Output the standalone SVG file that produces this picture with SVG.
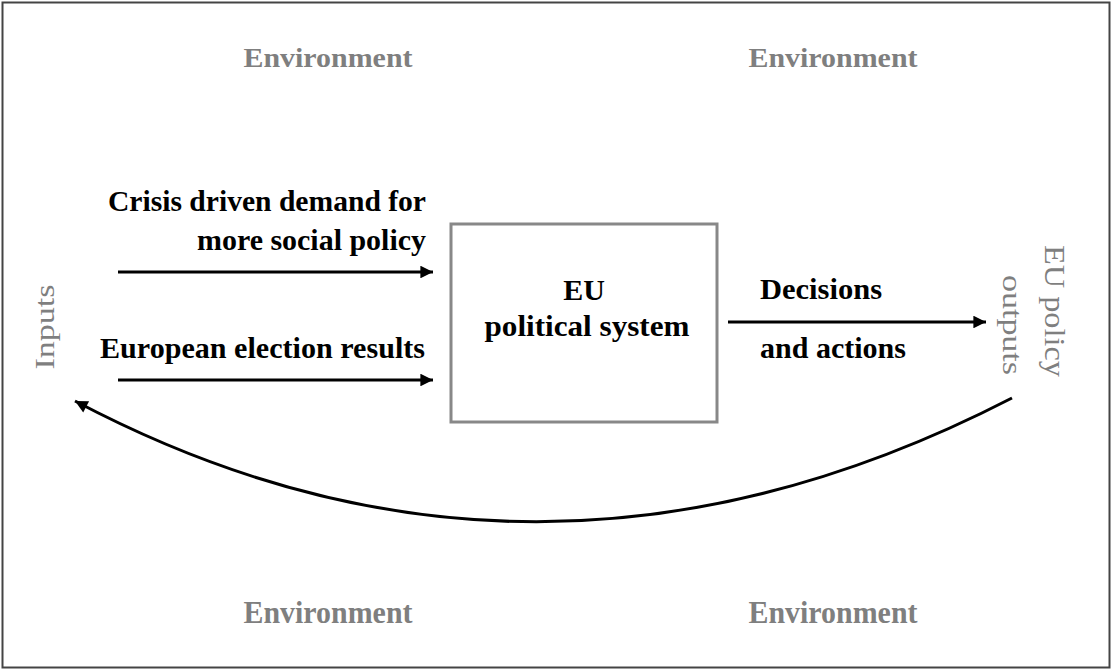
<svg xmlns="http://www.w3.org/2000/svg" width="1113" height="671" viewBox="0 0 1113 671">
<defs>
<style>
.env{font-family:"Liberation Serif",serif;font-weight:bold;font-size:28px;fill:#7f7f7f;text-anchor:middle}
.envb{font-family:"Liberation Serif",serif;font-weight:bold;font-size:31px;fill:#7f7f7f;text-anchor:middle}
.lbl{font-family:"Liberation Serif",serif;font-weight:bold;font-size:30px;fill:#000}
.side{font-family:"Liberation Serif",serif;font-size:27px;fill:#7f7f7f;text-anchor:middle}
.arr{stroke:#000;stroke-width:3;fill:none}
</style>
<marker id="ah" viewBox="0 0 10 10" refX="10" refY="5" markerWidth="5" markerHeight="4.2" orient="auto" markerUnits="strokeWidth">
<path d="M0,0 L10,5 L0,10 z" fill="#000"/>
</marker>
</defs>
<rect x="0" y="0" width="1113" height="671" fill="#fff"/>
<rect x="2.5" y="2.5" width="1107" height="665" fill="none" stroke="#444" stroke-width="2"/>
<g id="environment">
<text class="env" x="328" y="67" textLength="169" lengthAdjust="spacingAndGlyphs">Environment</text>
<text class="env" x="833" y="67" textLength="169" lengthAdjust="spacingAndGlyphs">Environment</text>
<text class="envb" x="328" y="623" textLength="169" lengthAdjust="spacingAndGlyphs">Environment</text>
<text class="envb" x="833" y="623" textLength="169" lengthAdjust="spacingAndGlyphs">Environment</text>
</g>
<g id="inputs">
<text class="side" transform="translate(54,327) rotate(-90)" textLength="85" lengthAdjust="spacingAndGlyphs">Inputs</text>
</g>
<g id="outputs">
<text class="side" style="font-size:29px" transform="translate(1045,311) rotate(90)" textLength="132" lengthAdjust="spacingAndGlyphs">EU policy</text>
<text class="side" transform="translate(1003,325) rotate(90)" textLength="100" lengthAdjust="spacingAndGlyphs">outputs</text>
</g>
<g id="system">
<rect x="451" y="224" width="266" height="198" fill="#fff" stroke="#888" stroke-width="3"/>
<text class="lbl" x="584" y="300" text-anchor="middle">EU</text>
<text class="lbl" x="587" y="336" text-anchor="middle" textLength="205" lengthAdjust="spacingAndGlyphs">political  system</text>
</g>
<g id="labels">
<text class="lbl" x="426" y="211" text-anchor="end" textLength="318" lengthAdjust="spacingAndGlyphs">Crisis driven demand for</text>
<text class="lbl" x="426" y="250" text-anchor="end" textLength="229" lengthAdjust="spacingAndGlyphs">more social policy</text>
<text class="lbl" x="425" y="358" text-anchor="end" textLength="325" lengthAdjust="spacingAndGlyphs">European election results</text>
<text class="lbl" x="760" y="299" textLength="122" lengthAdjust="spacingAndGlyphs">Decisions</text>
<text class="lbl" x="760" y="358" textLength="146" lengthAdjust="spacingAndGlyphs">and actions</text>
</g>
<g id="connectors">
<line class="arr" x1="118" y1="272" x2="433" y2="272" marker-end="url(#ah)"/>
<line class="arr" x1="118" y1="380" x2="433" y2="380" marker-end="url(#ah)"/>
<line class="arr" x1="728" y1="322" x2="986" y2="322" marker-end="url(#ah)"/>
<path class="arr" d="M1012,398 Q535,644 75,401" marker-end="url(#ah)"/>
</g>
</svg>
